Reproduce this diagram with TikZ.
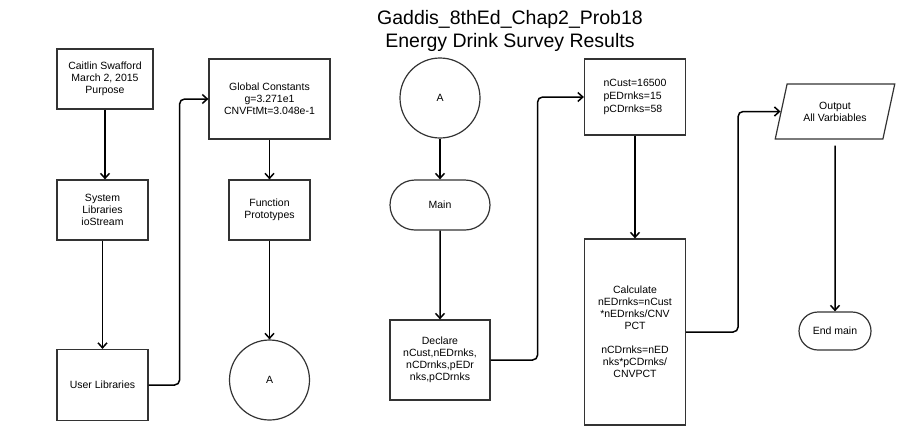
\documentclass[tikz,border=0pt]{standalone}
\usepackage{fontspec}
\setmainfont{Liberation Sans}
\usetikzlibrary{arrows.meta,shapes.geometric,shapes.misc}
\tikzset{
  stepbox/.style={draw=black!80,line width=1.2pt,inner sep=0pt,align=center,font=\fontsize{10.5}{12}\selectfont},
  termbox/.style={stepbox,rounded rectangle},
  connbox/.style={stepbox,circle,minimum size=80},
  iobox/.style={stepbox,trapezium,trapezium left angle=68,trapezium right angle=112,trapezium stretches=true,minimum width=120,minimum height=55},
  flow/.style={-{Straight Barb[length=5pt,width=9pt]},line width=1.5pt,rounded corners=5pt}
}
\begin{document}
\begin{tikzpicture}[x=1pt,y=-1pt]
\useasboundingbox (0,0) rectangle (906,445);
\node[font=\fontsize{19.5}{23}\selectfont,align=center] (title) at (510,31) {Gaddis\_8thEd\_Chap2\_Prob18\\Energy Drink Survey Results};
\node[stepbox,minimum width=96,minimum height=60] (head) at (105,79) {Caitlin Swafford\\March 2, 2015\\Purpose};
\node[stepbox,minimum width=91,minimum height=60] (syslib) at (102.5,210) {System\\Libraries\\ioStream};
\node[stepbox,minimum width=91,minimum height=71] (usrlib) at (102.5,385) {User Libraries};
\node[stepbox,minimum width=121,minimum height=80] (glob) at (269.5,99) {Global Constants\\g=3.271e1\\CNVFtMt=3.048e-1};
\node[stepbox,minimum width=81,minimum height=60] (proto) at (269.5,210) {Function\\Prototypes};
\node[connbox] (conA) at (269.5,380) {A};
\node[connbox] (conB) at (440,98) {A};
\node[termbox,minimum width=100,minimum height=50] (main) at (440,205) {Main};
\node[stepbox,minimum width=100,minimum height=80] (decl) at (440,360) {Declare\\nCust,nEDrnks,\\nCDrnks,pEDr\\nks,pCDrnks};
\node[stepbox,minimum width=101,minimum height=76,align=left,font=\fontsize{10.5}{13}\selectfont] (init) at (635,97) {nCust=16500\\pEDrnks=15\\pCDrnks=58};
\node[stepbox,minimum width=101,minimum height=186] (calc) at (635,332) {Calculate\\nEDrnks=nCust\\*nEDrnks/CNV\\PCT\\[12pt]nCDrnks=nED\\nks*pCDrnks/\\CNVPCT};
\node[iobox] (out) at (835,111.5) {Output\\All Varbiables};
\node[termbox,minimum width=72,minimum height=38] (endm) at (835,331) {End main};
\draw[flow] (head.south) -- (head.south |- syslib.north);
\draw[flow] (syslib) -- (usrlib);
\draw[flow] (usrlib.east) -- ++(31,0) |- (glob.west);
\draw[flow] (glob) -- (proto);
\draw[flow] (proto) -- (conA);
\draw[flow] (conB) -- (main);
\draw[flow] (main) -- (decl);
\draw[flow] (decl.east) -- ++(47,0) |- (init.west);
\draw[flow] (init) -- (calc);
\draw[flow] (calc.east) -- ++(52,0) |- (out.west);
\draw[flow,shorten <=6pt] (out) -- (endm);
\end{tikzpicture}
\end{document}
